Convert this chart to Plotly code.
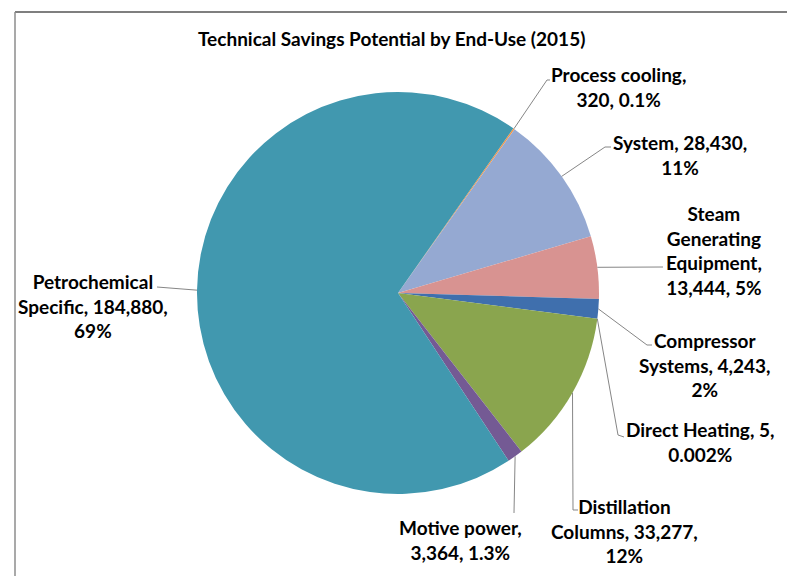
import math
import plotly.graph_objects as go

# ---- data ----
categories = ["Process cooling", "System", "Steam Generating Equipment", "Compressor Systems",
              "Direct Heating", "Distillation Columns", "Motive power", "Petrochemical Specific"]
values = [320, 28430, 13444, 4243, 5, 33277, 3364, 184880]
pct_labels = ["0.1%", "11%", "5%", "2%", "0.002%", "12%", "1.3%", "69%"]
label_text = [
    "Process cooling,<br>320, 0.1%",
    "System, 28,430,<br>11%",
    "Steam<br>Generating<br>Equipment,<br>13,444, 5%",
    "Compressor<br>Systems, 4,243,<br>2%",
    "Direct Heating, 5,<br>0.002%",
    "Distillation<br>Columns, 33,277,<br>12%",
    "Motive power,<br>3,364, 1.3%",
    "Petrochemical<br>Specific, 184,880,<br>69%",
]
colors = ["#F79646", "#95A9D2", "#D89391", "#3F6FAD", "#B65708", "#8AA54E", "#745A94", "#4198AF"]

# ---- layout geometry (pixels in the 795x576 window; page body has an 8px margin) ----
OFF = 8
W, H = 795 - OFF, 576 - OFF
CX, CY, R = 398, 293, 201
ROTATION = 35

label_pos = [(618, 87), (680, 155), (714, 250), (705, 365), (700, 442), (624, 531), (460, 540), (93, 306)]
leader_pts = [
    [(547, 80), (550, 80)],
    [(605, 147), (611, 147)],
    [(663, 267)],
    [(647, 345), (652, 345)],
    [(618, 435), (624, 437)],
    [(573, 510), (578, 510)],
    [(514, 513)],
    [(157, 287)],
]

def px(x):
    return (x - OFF) / W

def py(y):
    return 1 - (y - OFF) / H

fig = go.Figure()
fig.add_trace(go.Pie(
    labels=categories, values=values, sort=False, direction="clockwise",
    rotation=ROTATION, textinfo="none", hoverinfo="label+value+percent",
    marker=dict(colors=colors, line=dict(width=0)),
    domain=dict(x=[px(CX - R), px(CX + R)], y=[py(CY + R), py(CY - R)]),
    showlegend=False,
))

total = sum(values)
shapes = []
annotations = []
cum = 0
for i, v in enumerate(values):
    mid = math.radians(ROTATION + (cum + v / 2) / total * 360)
    cum += v
    ex = CX + R * math.sin(mid)
    ey = CY - R * math.cos(mid)
    pts = [(ex, ey)] + leader_pts[i]
    path = "M " + " L ".join(f"{px(x):.5f},{py(y):.5f}" for x, y in pts)
    shapes.append(dict(type="path", path=path, xref="paper", yref="paper",
                       line=dict(color="#868686", width=1)))
    lx, ly = label_pos[i]
    annotations.append(dict(text="<b>" + label_text[i] + "</b>", x=px(lx), y=py(ly),
                            xref="paper", yref="paper",
                            xanchor="center", yanchor="middle", align="center", showarrow=False,
                            font=dict(family="Lato", size=19, color="#000000")))

# title
annotations.append(dict(text="<b>Technical Savings Potential by End-Use (2015)</b>", x=px(391), y=py(38),
                        xref="paper", yref="paper", xanchor="center", yanchor="middle", showarrow=False,
                        font=dict(family="Lato", size=19, color="#000000")))

# chart border (top and left edges visible)
shapes.append(dict(type="line", xref="paper", yref="paper", x0=px(15), x1=1.0, y0=py(12), y1=py(12),
                   line=dict(color="#7F7F7F", width=2)))
shapes.append(dict(type="line", xref="paper", yref="paper", x0=px(15), x1=px(15), y0=0.0, y1=py(12),
                   line=dict(color="#8C8C8C", width=1.5)))

fig.update_layout(
    width=W, height=H, margin=dict(l=0, r=0, t=0, b=0),
    paper_bgcolor="white", plot_bgcolor="white",
    shapes=shapes, annotations=annotations,
)
fig.write_html("out.html")
